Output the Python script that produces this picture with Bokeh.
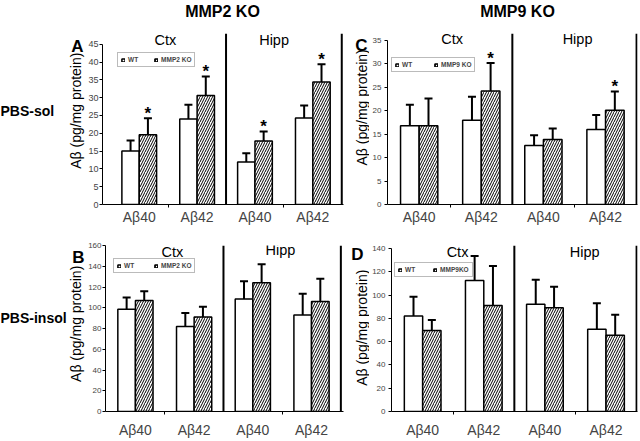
import math
from bokeh.plotting import figure
from bokeh.models import (Range1d, FixedTicker, Span, Label, Legend, LegendItem,
                          Whisker, TeeHead, ColumnDataSource)
from bokeh.layouts import column, row
from bokeh.embed import file_html
from bokeh.resources import INLINE
from bokeh.core.properties import value

FONT = "Liberation Sans"

groups = ["Aβ40", "Aβ42", "Aβ40", "Aβ42"]
regions = ["Ctx", "Hipp"]
pos = [0, 1, 2, 3]
col_titles = ["MMP2 KO", "MMP9 KO"]
row_titles = ["PBS-sol", "PBS-insol"]
y_title = "Aβ (pg/mg protein)"

# Panel A: MMP2 KO, PBS-sol
a_wt = [15.0, 24.0, 11.9, 24.3]
a_wt_sd = [3.0, 4.0, 2.5, 3.5]
a_ko = [19.6, 30.6, 17.8, 34.4]
a_ko_sd = [4.6, 5.3, 2.7, 5.0]
a_sig = [True, True, True, True]
a_yticks = [0, 5, 10, 15, 20, 25, 30, 35, 40, 45]

# Panel C: MMP9 KO, PBS-sol
c_wt = [16.8, 18.0, 12.6, 16.0]
c_wt_sd = [4.5, 5.0, 2.2, 3.1]
c_ko = [16.8, 24.2, 13.9, 20.1]
c_ko_sd = [5.8, 6.0, 2.3, 4.0]
c_sig = [False, True, False, True]
c_yticks = [0, 5, 10, 15, 20, 25, 30, 35]

# Panel B: MMP2 KO, PBS-insol
b_wt = [98.5, 82.0, 108.5, 93.0]
b_wt_sd = [11.5, 13.0, 17.0, 20.5]
b_ko = [107.0, 91.0, 124.0, 106.0]
b_ko_sd = [9.0, 10.0, 18.0, 22.0]
b_sig = [False, False, False, False]
b_yticks = [0, 20, 40, 60, 80, 100, 120, 140, 160]

# Panel D: MMP9 KO, PBS-insol
d_wt = [82.0, 112.5, 92.0, 70.5]
d_wt_sd = [16.5, 21.0, 21.0, 22.5]
d_ko = [69.5, 91.0, 89.0, 65.5]
d_ko_sd = [9.0, 34.0, 18.0, 17.5]
d_sig = [False, False, False, False]
d_yticks = [0, 20, 40, 60, 80, 100, 120, 140]


def helper(width, height):
    h = figure(width=width, height=height, output_backend="svg", toolbar_location=None,
               x_range=Range1d(0, width), y_range=Range1d(height, 0), title=None,
               x_axis_location=None, y_axis_location=None,
               min_border=0, min_border_left=0, min_border_right=0,
               min_border_top=0, min_border_bottom=0)
    h.outline_line_color = None
    h.grid.visible = False
    h.background_fill_color = "white"
    h.border_fill_color = "white"
    return h


def htext(h, x, y, text, size, style="normal", align="left", baseline="middle", angle=0):
    h.text(x=[x], y=[y], text=[text], text_font=value(FONT), text_font_size=size,
           text_font_style=style, text_align=align, text_baseline=baseline,
           angle=angle, text_color="black")


def panel(width, height, borders, xr, yr, yticks, wt, wt_sd, ko, ko_sd, sig,
          ko_name, tick_font, tick_out, tick_standoff, xlab_standoff,
          leg_loc, leg_spacing, region_xy):
    bl, br, bt, bb = borders
    p = figure(width=width, height=height, output_backend="svg", toolbar_location=None,
               x_range=Range1d(*xr), y_range=Range1d(*yr), title=None,
               min_border_left=bl, min_border_right=br, min_border_top=bt,
               min_border_bottom=bb)
    p.outline_line_color = None
    p.grid.visible = False
    p.background_fill_color = "white"
    p.border_fill_color = "white"

    src_wt = ColumnDataSource(dict(x=[i - 0.15 for i in pos], top=wt,
                                   err=[w + s for w, s in zip(wt, wt_sd)]))
    src_ko = ColumnDataSource(dict(x=[i + 0.15 for i in pos], top=ko,
                                   err=[k + s for k, s in zip(ko, ko_sd)]))
    r_wt = p.vbar(x="x", top="top", width=0.3, bottom=0, source=src_wt,
                  fill_color="white", line_color="black", line_width=1.5)
    r_ko = p.vbar(x="x", top="top", width=0.3, bottom=0, source=src_ko,
                  fill_color="white", line_color="black", line_width=1.5,
                  hatch_pattern="/", hatch_color="black", hatch_scale=5,
                  hatch_weight=1)
    for src in (src_wt, src_ko):
        p.add_layout(Whisker(source=src, base="x", lower="top", upper="err",
                             line_width=2, line_color="black",
                             upper_head=TeeHead(size=8, line_width=2, line_color="black"),
                             lower_head=None))

    sx = [i + 0.15 for i in pos if sig[i]]
    sy = [ko[i] + ko_sd[i] for i in pos if sig[i]]
    if sx:
        p.text(x=sx, y=sy, text=["*"] * len(sx), text_font=value(FONT),
               text_font_size="17px", text_font_style="bold", text_align="center",
               text_baseline="middle", y_offset=-5, text_color="black")

    p.add_layout(Span(location=1.5, dimension="height", line_color="black", line_width=2))
    p.add_layout(Span(location=3.5, dimension="height", line_color="black", line_width=2))

    ya = p.yaxis[0]
    ya.ticker = FixedTicker(ticks=yticks)
    ya.bounds = (0, yticks[-1])
    ya.major_tick_out = tick_out
    ya.major_tick_in = 0
    ya.minor_tick_out = 0
    ya.minor_tick_in = 0
    ya.major_label_text_font = FONT
    ya.major_label_text_font_size = tick_font
    ya.major_label_standoff = tick_standoff
    ya.axis_line_color = "black"

    xa = p.xaxis[0]
    xa.ticker = FixedTicker(ticks=pos, minor_ticks=[0.5, 2.5])
    xa.major_label_overrides = {i: g for i, g in zip(pos, groups)}
    xa.major_tick_out = 0
    xa.major_tick_in = 0
    xa.minor_tick_out = 3
    xa.minor_tick_in = 0
    xa.major_label_text_font = FONT
    xa.major_label_text_font_size = "14px"
    xa.major_label_standoff = xlab_standoff
    xa.axis_line_color = "black"

    leg = Legend(items=[LegendItem(label="WT", renderers=[r_wt]),
                        LegendItem(label=ko_name, renderers=[r_ko])],
                 location=leg_loc, orientation="horizontal",
                 glyph_width=4, glyph_height=4, label_text_font=FONT,
                 label_text_font_size="6.5px", label_text_font_style="bold",
                 label_height=6, label_width=10, label_standoff=3,
                 spacing=leg_spacing, padding=3, margin=0,
                 border_line_color="#777777", border_line_width=1,
                 background_fill_color="white", background_fill_alpha=1)
    p.add_layout(leg)

    for (rx, ry), t in zip(region_xy, regions):
        p.add_layout(Label(x=rx, y=ry, text=t, text_font=FONT,
                           text_font_size="14.5px", text_align="center",
                           text_baseline="middle", text_color="black"))
    return p


# ---- top banner with column titles
banner = helper(638, 22)
htext(banner, 222, 11, col_titles[0], "16px", style="bold", align="center")
htext(banner, 517, 11, col_titles[1], "16px", style="bold", align="center")

# ---- row 1 (PBS-sol)
L1 = helper(85, 206)
htext(L1, 0, 93, row_titles[0], "14px", style="bold")
htext(L1, 83, 16, "A", "17px", style="bold", align="right")
htext(L1, 75, 93, y_title, "14px", align="center", angle=math.pi / 2)

pA = panel(260, 206, (15, 2, 11, 22), (-0.635, 3.53), (0, 48), a_yticks,
           a_wt, a_wt_sd, a_ko, a_ko_sd, a_sig, "MMP2 KO", "9px", 3, 1, 1,
           (15, 137), 16, [(0.45, 46.1), (2.33, 46.1)])

M1 = helper(24, 206)
htext(M1, 22, 15, "C", "17px", style="bold", align="right")
htext(M1, 16, 89, y_title, "14px", align="center", angle=math.pi / 2)

pC = panel(269, 206, (16, 1, 11, 24), (-0.51, 3.515), (0, 36.5), c_yticks,
           c_wt, c_wt_sd, c_ko, c_ko_sd, c_sig, "MMP9 KO", "8px", 3, 3, 1,
           (4, 132), 22, [(0.53, 35.4), (2.55, 35.4)])

# ---- row 2 (PBS-insol)
L2 = helper(85, 212)
htext(L2, 0, 92, row_titles[1], "14px", style="bold")
htext(L2, 84, 15, "B", "17px", style="bold", align="right")
htext(L2, 75, 100, y_title, "14px", align="center", angle=math.pi / 2)

pB = panel(260, 212, (20, 2, 17, 23), (-0.51, 3.545), (0, 160), b_yticks,
           b_wt, b_wt_sd, b_ko, b_ko_sd, b_sig, "MMP2 KO", "8px", 3, 1, 7,
           (8, 138), 20, [(0.63, 153.5), (2.47, 155.3)])

M2 = helper(24, 212)
htext(M2, 18, 12, "D", "17px", style="bold", align="right")
htext(M2, 16, 105, y_title, "14px", align="center", angle=math.pi / 2)

pD = panel(269, 212, (16, 1, 17, 23), (-0.51, 3.515), (0, 142.5), d_yticks,
           d_wt, d_wt_sd, d_ko, d_ko_sd, d_sig, "MMP9KO", "8px", 3, 3, 7,
           (3, 134), 18, [(0.57, 136.7), (2.65, 136.7)])

layout = column(banner,
                row(L1, pA, M1, pC, spacing=0),
                row(L2, pB, M2, pD, spacing=0),
                spacing=0)

with open("out.html", "w") as f:
    f.write(file_html(layout, INLINE))
